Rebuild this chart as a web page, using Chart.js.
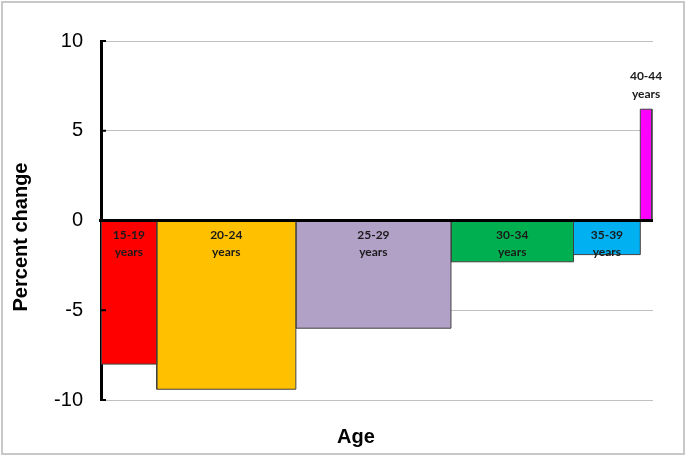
<!DOCTYPE html>
<html>
<head>
<meta charset="UTF-8" />
<script src="https://cdn.jsdelivr.net/npm/chart.js"></script>
<style>
  body { margin: 0; background: #fff; }
  canvas { display: block; }
</style>
</head>
<body>
<canvas id="chart" width="686" height="457"></canvas>
<script>
// age groups, percent change and bar widths (share, % of the x range)
const ageGroups = ['15-19', '20-24', '25-29', '30-34', '35-39', '40-44'];
const percentChange = [-8.0, -9.4, -6.0, -2.3, -1.9, 6.2];
const groupWidths = [10.1, 25.2, 28.1, 22.2, 12.1, 2.1];
const barColors = ['#ff0000', '#ffc000', '#b2a1c7', '#00b050', '#00b0f0', '#ff00ff'];
const yTicks = [-10, -5, 0, 5, 10];

// one closed rectangle per age group, x from cumulated widths
let start = 0;
const datasets = ageGroups.map((g, i) => {
  const x0 = start;
  const x1 = start + groupWidths[i];
  start = x1;
  const v = percentChange[i];
  return {
    label: g,
    data: [{ x: x0, y: 0 }, { x: x0, y: v }, { x: x1, y: v }, { x: x1, y: 0 }],
    backgroundColor: barColors[i],
    borderColor: '#404040',
    borderWidth: 1,
    fill: 'origin',
    pointRadius: 0,
    tension: 0,
  };
});

const decor = {
  id: 'decor',
  beforeDraw(chart) {
    const ctx = chart.ctx;
    ctx.save();
    ctx.strokeStyle = '#c8c8c8';
    ctx.lineWidth = 2;
    ctx.strokeRect(2, 2, 682, 452);
    ctx.restore();
  },
  afterDatasetsDraw(chart) {
    const ctx = chart.ctx;
    const x = chart.scales.x;
    const y = chart.scales.y;
    const area = chart.chartArea;
    const y0 = y.getPixelForValue(0);
    ctx.save();

    // zero line
    ctx.strokeStyle = '#000';
    ctx.lineWidth = 3;
    ctx.beginPath();
    ctx.moveTo(area.left - 2, y0);
    ctx.lineTo(area.right, y0);
    ctx.stroke();

    // inward tick marks
    ctx.lineWidth = 2;
    yTicks.forEach(t => {
      const py = y.getPixelForValue(t);
      ctx.beginPath();
      ctx.moveTo(area.left - 1, py);
      ctx.lineTo(area.left + 5, py);
      ctx.stroke();
    });

    // group labels
    ctx.fillStyle = '#1a1a1a';
    ctx.font = 'bold 12px Lato';
    ctx.textAlign = 'center';
    ctx.textBaseline = 'middle';
    let s = 0;
    ageGroups.forEach((g, i) => {
      const cx = x.getPixelForValue(s + groupWidths[i] / 2);
      s += groupWidths[i];
      if (percentChange[i] < 0) {
        ctx.fillText(g, cx, y0 + 15);
        ctx.fillText('years', cx, y0 + 32);
      } else {
        const top = y.getPixelForValue(percentChange[i]);
        ctx.fillText(g, cx, top - 33);
        ctx.fillText('years', cx, top - 15);
      }
    });

    // axis titles
    ctx.fillStyle = '#000';
    ctx.font = 'bold 20px "Liberation Sans"';
    ctx.fillText('Age', 356, 437);
    ctx.translate(21, 237);
    ctx.rotate(-Math.PI / 2);
    ctx.fillText('Percent change', 0, 0);
    ctx.restore();
  },
};

new Chart(document.getElementById('chart'), {
  type: 'line',
  data: { datasets },
  options: {
    responsive: false,
    animation: false,
    layout: { padding: { left: 0, top: 41, right: 33, bottom: 57 } },
    plugins: {
      legend: { display: false },
      tooltip: { enabled: false },
    },
    scales: {
      x: {
        type: 'linear',
        min: 0,
        max: 100,
        display: false,
      },
      y: {
        min: -10,
        max: 10,
        afterFit(scale) { scale.width = 101; },
        afterBuildTicks(scale) { scale.ticks = yTicks.map(v => ({ value: v })); },
        grid: { color: '#c0c0c0', lineWidth: 1, drawTicks: false },
        border: { display: true, color: '#000', width: 3 },
        ticks: {
          padding: 18,
          color: '#000',
          font: { family: 'Liberation Sans', size: 20 },
        },
      },
    },
  },
  plugins: [decor],
});
</script>
</body>
</html>
